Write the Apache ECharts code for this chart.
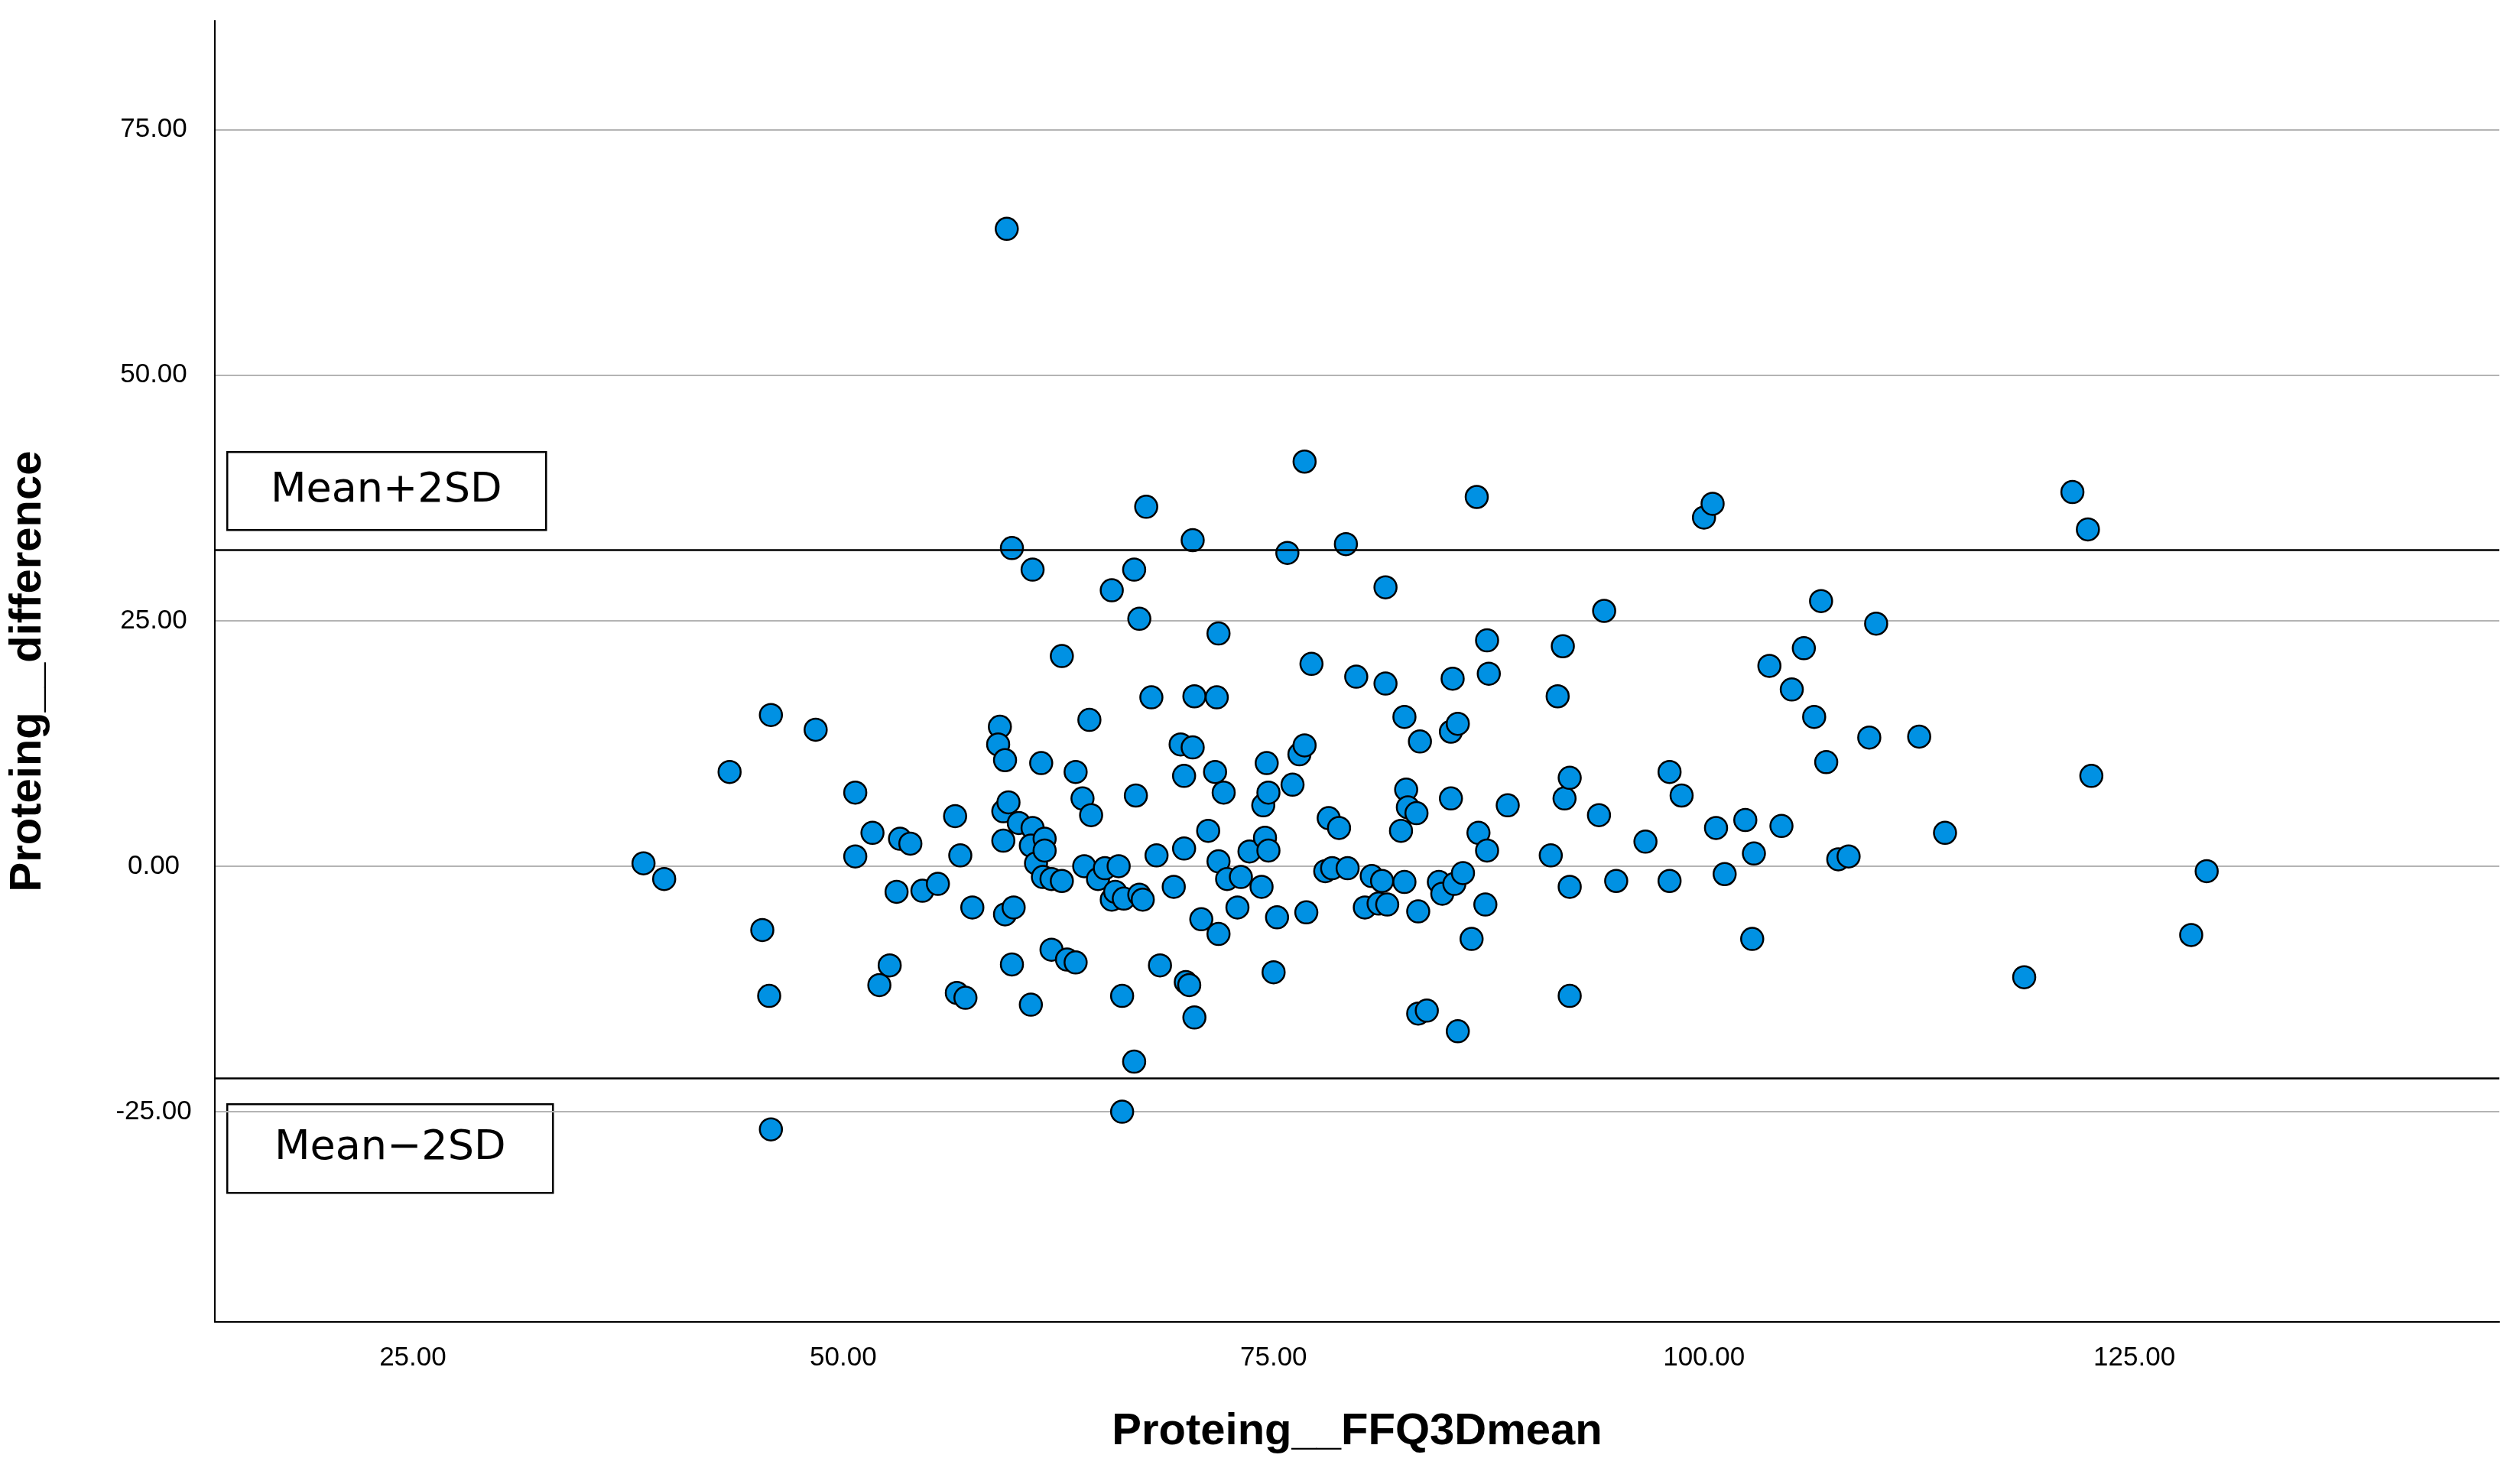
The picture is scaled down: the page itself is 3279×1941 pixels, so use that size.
<!DOCTYPE html>
<html>
<head>
<meta charset="utf-8">
<script src="https://cdn.jsdelivr.net/npm/echarts@6/dist/echarts.min.js"></script>
<style>
  html, body { margin: 0; padding: 0; background: #fff; }
  #chart { width: 3279px; height: 1941px; }
</style>
</head>
<body>
<div id="chart"></div>
<script>
// mean of the two methods (x) and their difference (y)
var meanVals = [
  38.4, 39.6, 43.4, 45.3, 45.8, 45.7, 45.8, 48.4, 50.7, 50.7, 51.7, 52.1, 52.7, 53.1, 53.3, 53.9,
  54.6, 55.5, 56.5, 56.6, 56.8, 57.1, 57.5, 59.1, 59.0, 59.4, 59.3, 59.3, 59.5, 59.6, 59.8, 59.8,
  59.4, 59.9, 60.2, 61.0, 61.0, 60.9, 61.2, 60.9, 61.5, 61.7, 61.7, 61.6, 62.1, 62.1, 62.7, 62.7,
  63.0, 63.5, 63.5, 63.9, 64.0, 64.3, 64.4, 64.8, 65.2, 65.6, 65.6, 65.8, 66.0, 66.2, 66.2, 66.3,
  66.9, 66.9, 67.0, 67.2, 67.2, 67.4, 67.6, 67.9, 68.2, 68.4, 69.2, 69.6, 69.8, 69.8, 69.9, 70.1,
  70.3, 70.4, 70.3, 70.4, 70.8, 71.2, 71.6, 71.7, 71.8, 71.8, 71.8, 72.1, 72.3, 72.9, 73.1, 73.6,
  74.3, 74.4, 74.5, 74.6, 74.7, 74.7, 75.0, 75.2, 75.8, 76.1, 76.5, 76.8, 76.8, 76.9, 77.2, 78.0,
  78.2, 78.4, 78.8, 79.2, 79.3, 79.8, 80.3, 80.7, 81.1, 81.3, 81.5, 81.5, 81.6, 82.4, 82.6, 82.6,
  82.7, 82.8, 83.3, 83.4, 83.5, 83.4, 83.9, 84.6, 84.8, 85.3, 85.4, 85.7, 85.3, 85.5, 85.7, 86.0,
  86.5, 86.8, 86.9, 87.4, 87.5, 87.4, 87.3, 88.6, 91.1, 91.5, 91.8, 91.9, 92.2, 92.2, 92.2, 93.9,
  94.2, 94.9, 96.6, 98.0, 98.0, 98.7, 100.0, 100.5, 100.7, 101.2, 102.4, 102.8, 102.9, 103.8, 104.5, 105.1,
  105.8, 106.4, 106.8, 107.1, 107.8, 108.4, 109.6, 110.0, 112.5, 114.0, 118.6, 121.4, 122.3, 122.5, 128.3, 129.2
];
var diffVals = [
  0.3, -1.3, 9.6, -6.5, 15.4, -13.2, -26.8, 13.9, 7.5, 1.0, 3.4, -12.1, -10.1, -2.6, 2.8, 2.3,
  -2.5, -1.8, 5.1, -12.9, 1.1, -13.4, -4.2, 14.2, 12.4, 10.8, 5.6, 2.6, 64.9, 6.5, 32.4, -10.0,
  -4.9, -4.2, 4.4, 30.2, 3.9, 2.1, 0.3, -14.1, 10.5, 2.8, 1.6, -1.1, -1.3, -8.5, 21.4, -1.5,
  -9.5, -9.8, 9.6, 6.9, 0.0, 14.9, 5.2, -1.3, -0.2, 28.1, -3.4, -2.6, 0.0, -13.2, -25.0, -3.3,
  -19.9, 30.2, 7.2, 25.2, -2.9, -3.4, 36.6, 17.2, 1.1, -10.1, -2.1, 12.4, 1.8, 9.2, -11.8, -12.1,
  33.2, 17.3, 12.1, -15.4, -5.4, 3.6, 9.6, 17.2, 23.7, 0.5, -6.9, 7.5, -1.3, -4.2, -1.1, 1.5,
  -2.1, 6.2, 2.9, 10.5, 7.5, 1.6, -10.8, -5.2, 31.9, 8.3, 11.4, 41.2, 12.3, -4.7, 20.6, -0.5,
  4.9, -0.2, 3.9, 32.8, -0.2, 19.3, -4.2, -1.0, -3.8, -1.5, 28.4, 18.6, -3.9, 3.6, 15.2, -1.6,
  7.8, 6.0, 5.4, -4.6, 12.7, -15.0, -14.7, -1.6, -2.8, 13.7, 19.1, 14.5, 6.9, -1.8, -16.8, -0.7,
  -7.4, 37.6, 3.4, 23.0, 19.6, 1.6, -3.9, 6.2, 1.1, 17.3, 22.4, 6.9, -2.1, 9.0, -13.2, 5.2,
  26.0, -1.5, 2.5, 9.6, -1.5, 7.2, 35.5, 36.9, 3.9, -0.8, 4.7, -7.4, 1.3, 20.4, 4.1, 18.0,
  22.2, 15.2, 27.0, 10.6, 0.7, 1.0, 13.1, 24.7, 13.2, 3.4, -11.3, 38.1, 34.3, 9.2, -7.0, -0.5
];
var upperLimit = 32.2;   // Mean+2SD
var lowerLimit = -21.6;  // Mean-2SD
var xTicks = [25, 50, 75, 100, 125];
var yTicks = [-25, 0, 25, 50, 75];

var points = [];
for (var i = 0; i < meanVals.length; i++) {
  points.push([meanVals[i], diffVals[i]]);
}

var chart = echarts.init(document.getElementById('chart'));

var option = {
  backgroundColor: '#ffffff',
  animation: false,
  grid: { left: 275, right: 10, top: 27, bottom: 212 },
  xAxis: {
    type: 'value',
    min: 13.5,
    max: 146.2,
    name: 'Proteing__FFQ3Dmean',
    nameLocation: 'middle',
    nameGap: 115,
    nameTextStyle: { fontFamily: 'Liberation Sans', fontSize: 58, fontWeight: 'bold', color: '#000' },
    axisLine: { onZero: false, lineStyle: { color: '#000', width: 2 } },
    axisTick: { show: false, customValues: xTicks },
    splitLine: { show: false },
    axisLabel: {
      customValues: xTicks,
      formatter: function (v) { return v.toFixed(2); },
      fontFamily: 'Liberation Sans', fontSize: 35, color: '#000', margin: 30
    }
  },
  yAxis: {
    type: 'value',
    min: -46.4,
    max: 86.1,
    name: 'Proteing__difference',
    nameLocation: 'middle',
    nameGap: 215,
    nameTextStyle: { fontFamily: 'Liberation Sans', fontSize: 58, fontWeight: 'bold', color: '#000' },
    axisLine: { show: true, lineStyle: { color: '#000', width: 2 } },
    axisTick: { show: false, customValues: yTicks },
    splitLine: { show: true, lineStyle: { color: '#b4b4b4', width: 2 } },
    axisLabel: {
      customValues: yTicks,
      formatter: function (v) { return v.toFixed(2); },
      fontFamily: 'Liberation Sans', fontSize: 35, color: '#000', margin: 80, align: 'center'
    }
  },
  series: [{
    type: 'scatter',
    data: points,
    symbolSize: 29,
    itemStyle: { color: '#0091e3', borderColor: '#000', borderWidth: 2.5, opacity: 1 },
    markLine: {
      silent: true,
      symbol: 'none',
      label: { show: false },
      lineStyle: { color: '#000', width: 2.5, type: 'solid' },
      data: [{ yAxis: upperLimit }, { yAxis: lowerLimit }]
    }
  }],
  graphic: [
    {
      type: 'group', left: 296, top: 590,
      children: [
        { type: 'rect', shape: { x: 0, y: 0, width: 417, height: 102 }, style: { fill: '#fff', stroke: '#000', lineWidth: 2.5 } },
        { type: 'text', x: 208, y: 51, style: { text: 'Mean+2SD', fontFamily: 'DejaVu Sans', fontSize: 54, fill: '#000', align: 'center', verticalAlign: 'middle' } }
      ]
    },
    {
      type: 'group', left: 296, top: 1443,
      children: [
        { type: 'rect', shape: { x: 0, y: 0, width: 426, height: 116 }, style: { fill: '#fff', stroke: '#000', lineWidth: 2.5 } },
        { type: 'text', x: 213, y: 58, style: { text: 'Mean\u22122SD', fontFamily: 'DejaVu Sans', fontSize: 54, fill: '#000', align: 'center', verticalAlign: 'middle' } }
      ]
    }
  ]
};

chart.setOption(option);
</script>
</body>
</html>
